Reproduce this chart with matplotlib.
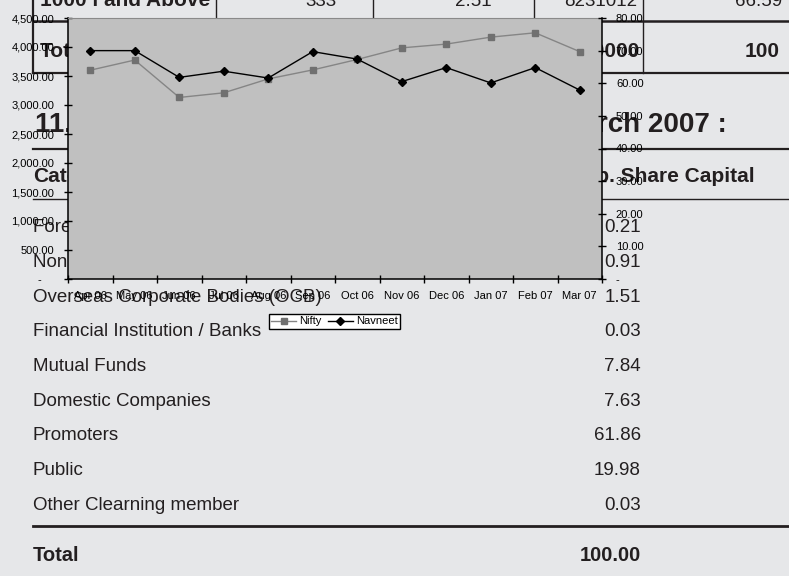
import matplotlib
matplotlib.use("Agg")
import matplotlib.pyplot as plt
import numpy as np
from matplotlib.lines import Line2D
from matplotlib.ticker import FuncFormatter

W, H = 789, 576

# chart data (monthly)
months = ["Apr 06", "May 06", "Jun 06", "Jul 06", "Aug 06", "Sep 06",
          "Oct 06", "Nov 06", "Dec 06", "Jan 07", "Feb 07", "Mar 07"]
nifty = [3600, 3775, 3130, 3210, 3450, 3605, 3785, 3985, 4050, 4170, 4245, 3920]
navneet = [70.0, 70.0, 61.8, 63.7, 61.6, 69.7, 67.4, 60.5, 64.8, 60.1, 64.8, 57.9]

# shareholding table behind the chart
holders = ["Foreign Institutional Investors", "Non Resident Indians",
           "Overseas Corporate Bodies (OCB)", "Financial Institution / Banks",
           "Mutual Funds", "Domestic Companies", "Promoters", "Public",
           "Other Clearning member"]
holding_pct = ["0.21", "0.91", "1.51", "0.03", "7.84", "7.63", "61.86", "19.98", "0.03"]
top_row = ["1000 l and Above", "333", "2.51", "8231012", "66.59"]
total_row = ["Total", "9270000", "100"]

BG = "#e6e7e9"
INK = "#231f20"
NARROW = ["Liberation Sans Narrow", "Liberation Sans", "DejaVu Sans"]
ARIAL = ["Liberation Sans", "DejaVu Sans"]

plt.rcParams["font.family"] = ARIAL

fig = plt.figure(figsize=(W / 100, H / 100), dpi=100, facecolor=BG)

# ---- page underneath (pixel coordinates) ----
bg = fig.add_axes([0, 0, 1, 1], zorder=-1)
bg.set_xlim(0, W)
bg.set_ylim(H, 0)
bg.axis("off")


def hline(y, x0, x1, lw):
    bg.add_line(Line2D([x0, x1], [y, y], color=INK, lw=lw))


def vline(x, y0, y1, lw):
    bg.add_line(Line2D([x, x], [y0, y1], color=INK, lw=lw))


def txt(x, y, s, ha="left", size=13.5, weight="normal", family=NARROW):
    bg.text(x, y, s, ha=ha, va="baseline", fontsize=size, fontweight=weight,
            family=family, color=INK)


# top table fragment
vline(33, 0, 73, 1.6)
vline(216, 0, 18, 1.0)
vline(373, 0, 18, 1.0)
vline(534, 0, 18, 1.0)
vline(643, 0, 73, 1.0)
hline(21, 33, W, 1.8)
hline(73, 33, W, 1.6)
txt(40, 6, top_row[0], size=15, weight="bold", family=ARIAL)
txt(321, 6, top_row[1], ha="center")
txt(492, 6, top_row[2], ha="right")
txt(637, 6, top_row[3], ha="right")
txt(782, 6, top_row[4], ha="right")
txt(40, 57, total_row[0], size=15, weight="bold", family=ARIAL)
txt(640, 57, total_row[1], ha="right", size=15, weight="bold", family=ARIAL)
txt(780, 57, total_row[2], ha="right", size=15, weight="bold", family=ARIAL)

# heading
txt(35, 132, "11. Shareholding Pattern", size=20, weight="bold", family=ARIAL)
txt(727, 132, "as on 31st March 2007 :", ha="right", size=20, weight="bold", family=ARIAL)
hline(149, 33, W, 1.6)
txt(33, 182, "Category", size=15, weight="bold", family=ARIAL)
txt(755, 182, "% of Grp. Share Capital", ha="right", size=15, weight="bold", family=ARIAL)
hline(199, 33, W, 1.0)

for i, (name, pct) in enumerate(zip(holders, holding_pct)):
    y = 232 + i * 34.75
    txt(33, y, name)
    txt(641, y, pct, ha="right")

hline(526, 33, W, 2.0)
txt(33, 561, "Total", size=14.5, weight="bold")
txt(641, 561, "100.00", ha="right", size=14.5, weight="bold")

# ---- the chart ----
ax = fig.add_axes([68 / W, 1 - 279 / H, 534 / W, 261 / H])
ax.set_facecolor("#c0c0c0")
x = np.arange(len(months))
l1, = ax.plot(x, nifty, color="#858585", lw=1.0, marker="s", ms=4.5,
              mfc="#707070", mec="#707070", label="Nifty")
ax.set_xlim(-0.5, len(months) - 0.5)
ax.set_ylim(0, 4500)
ax.set_yticks(np.arange(0, 4501, 500))
ax.yaxis.set_major_formatter(FuncFormatter(
    lambda v, p: "-    " if v == 0 else f"{v:,.2f}"))
ax.set_xticks(x)
ax.set_xticklabels(months)
ax.set_xticks(np.arange(-0.5, len(months)), minor=True)
ax.tick_params(axis="x", which="major", length=0, pad=8.5, labelsize=8)
ax.tick_params(axis="x", which="minor", direction="inout", length=6, width=1)
ax.tick_params(axis="y", direction="inout", length=6, width=1, pad=7, labelsize=8)
ax.spines["top"].set_color("#8a8a8a")
ax.spines["top"].set_linewidth(0.8)
ax.spines["right"].set_visible(False)
ax.spines["left"].set_linewidth(1.1)
ax.spines["bottom"].set_linewidth(1.1)

ax2 = ax.twinx()
l2, = ax2.plot(x, navneet, color="black", lw=1.0, marker="D", ms=4.0, label="Navneet")
ax2.set_ylim(0, 80)
ax2.set_yticks(np.arange(0, 81, 10))
ax2.yaxis.set_major_formatter(FuncFormatter(
    lambda v, p: "-" if v == 0 else f"{v:.2f}"))
ax2.tick_params(axis="y", direction="inout", length=6, width=1, pad=7, labelsize=8)
for side in ["top", "left", "bottom"]:
    ax2.spines[side].set_visible(False)
ax2.spines["right"].set_linewidth(1.1)

ax.legend([l1, l2], ["Nifty", "Navneet"], loc="center",
          bbox_to_anchor=(334.5 / W, 1 - 321.5 / H), bbox_transform=fig.transFigure,
          ncol=2, fontsize=8, frameon=True, fancybox=False, edgecolor="black",
          facecolor="white", framealpha=1, handlelength=2.2, handletextpad=0.3,
          columnspacing=0.6, borderpad=0.25, borderaxespad=0)

fig.savefig("out.png", dpi=100, facecolor=BG)
